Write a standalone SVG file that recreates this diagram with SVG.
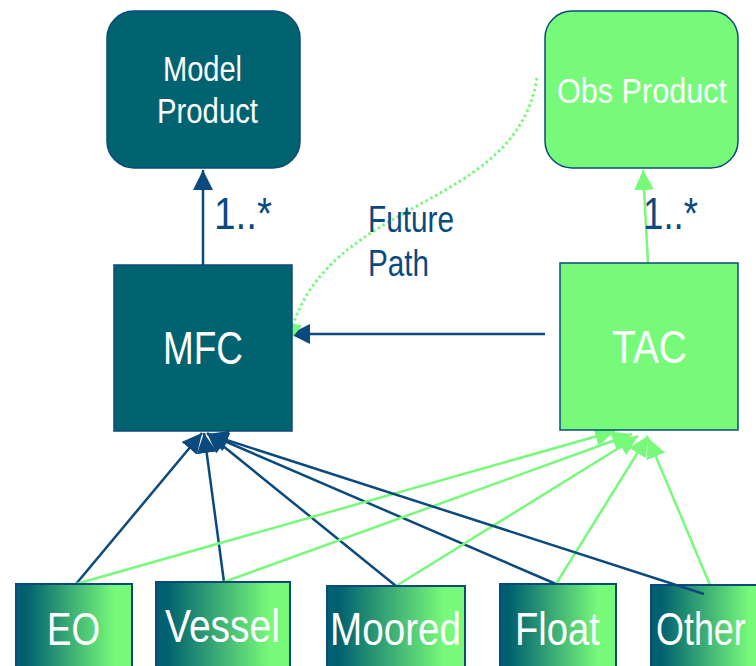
<svg xmlns="http://www.w3.org/2000/svg" width="756" height="666" viewBox="0 0 756 666">
<style>
.teal{fill:#00636F;stroke:#0B4A7E;stroke-width:1.5}
.green{fill:#77FA7A;stroke:#0B4A7E;stroke-width:1.5}
.grad{fill:url(#g);stroke:#0B4A7E;stroke-width:2}
.wt{fill:#FFFFFF;font-family:"Liberation Sans",Arial,sans-serif}
.bt{fill:#0B4A7E;font-family:"Liberation Sans",Arial,sans-serif}
.db{stroke:#0B4A7E;stroke-width:2.5;fill:none}
.gl{stroke:#77FA7A;stroke-width:2.5;fill:none}
</style>
<defs>
<linearGradient id="g" x1="0" y1="0" x2="1" y2="0">
<stop offset="0.08" stop-color="#00606F"/>
<stop offset="0.85" stop-color="#77FA7A"/>
</linearGradient>
<marker id="ab" markerUnits="userSpaceOnUse" markerWidth="22" markerHeight="22" refX="20" refY="10" orient="auto" viewBox="0 0 22 22">
<path d="M0,0 L20,10 L0,20 Z" fill="#0B4A7E"/>
</marker>
<marker id="ag" markerUnits="userSpaceOnUse" markerWidth="22" markerHeight="22" refX="20" refY="10" orient="auto" viewBox="0 0 22 22">
<path d="M0,0 L20,10 L0,20 Z" fill="#77FA7A"/>
</marker>
</defs>
<rect width="756" height="666" fill="#FFFFFF"/>
<g id="connectors">
<line class="db" x1="203" y1="265" x2="203" y2="170" marker-end="url(#ab)"/>
<line class="gl" x1="648" y1="263" x2="643" y2="170" marker-end="url(#ag)"/>
<line class="db" x1="545" y1="334" x2="290" y2="334" marker-end="url(#ab)"/>
<path d="M537,78 C515,215 320,195 288,343" fill="none" stroke="#77FA7A" stroke-width="3" stroke-dasharray="2.5 3" marker-end="url(#ag)"/>
<line class="db" x1="76" y1="584" x2="202" y2="433" marker-end="url(#ab)"/>
<line class="db" x1="224" y1="582" x2="204" y2="433" marker-end="url(#ab)"/>
<line class="db" x1="396" y1="586" x2="207" y2="433" marker-end="url(#ab)"/>
<line class="db" x1="556" y1="584" x2="208" y2="434" marker-end="url(#ab)"/>
<line class="gl" x1="76" y1="584" x2="615" y2="431" marker-end="url(#ag)"/>
<line class="gl" x1="224" y1="582" x2="632" y2="434" marker-end="url(#ag)"/>
<line class="gl" x1="396" y1="586" x2="638" y2="436" marker-end="url(#ag)"/>
<line class="gl" x1="556" y1="584" x2="648" y2="436" marker-end="url(#ag)"/>
<line class="gl" x1="710" y1="585" x2="648" y2="438" marker-end="url(#ag)"/>
</g>
<g id="model-product">
<rect class="teal" x="107" y="11" width="193" height="157" rx="27"/>
<text class="wt" x="163" y="81" font-size="35" textLength="79" lengthAdjust="spacingAndGlyphs">Model</text>
<text class="wt" x="157" y="123" font-size="35" textLength="101" lengthAdjust="spacingAndGlyphs">Product</text>
</g>
<g id="obs-product">
<rect class="green" x="545" y="11" width="193" height="157" rx="27"/>
<text class="wt" x="557" y="103" font-size="35" textLength="170" lengthAdjust="spacingAndGlyphs">Obs Product</text>
</g>
<g id="mfc">
<rect class="teal" x="114" y="265" width="178" height="166"/>
<text class="wt" x="163" y="364" font-size="46" textLength="80" lengthAdjust="spacingAndGlyphs">MFC</text>
</g>
<g id="tac">
<rect class="green" x="560" y="263" width="178" height="167"/>
<text class="wt" x="612" y="363" font-size="46" textLength="75" lengthAdjust="spacingAndGlyphs">TAC</text>
</g>
<g id="labels">
<text class="bt" x="214" y="229" font-size="44" textLength="58" lengthAdjust="spacingAndGlyphs">1..*</text>
<text class="bt" x="643" y="229" font-size="44" textLength="55" lengthAdjust="spacingAndGlyphs">1..*</text>
<text class="bt" x="368" y="232" font-size="37" textLength="86" lengthAdjust="spacingAndGlyphs">Future</text>
<text class="bt" x="368" y="276" font-size="37" textLength="61" lengthAdjust="spacingAndGlyphs">Path</text>
</g>
<g id="eo">
<rect class="grad" x="16" y="584" width="116" height="90"/>
<text class="wt" x="47" y="645" font-size="47" textLength="53" lengthAdjust="spacingAndGlyphs">EO</text>
</g>
<g id="vessel">
<rect class="grad" x="156" y="582" width="134" height="92"/>
<text class="wt" x="165" y="642" font-size="47" textLength="115" lengthAdjust="spacingAndGlyphs">Vessel</text>
</g>
<g id="moored">
<rect class="grad" x="327" y="586" width="138" height="88"/>
<text class="wt" x="330" y="645" font-size="47" textLength="131" lengthAdjust="spacingAndGlyphs">Moored</text>
</g>
<g id="float">
<rect class="grad" x="500" y="584" width="116" height="90"/>
<text class="wt" x="515" y="645" font-size="47" textLength="85" lengthAdjust="spacingAndGlyphs">Float</text>
</g>
<g id="other">
<rect class="grad" x="651" y="585" width="116" height="90"/>
<text class="wt" transform="translate(656,645) scale(0.78,1)" x="0" y="0" font-size="46">Other</text>
</g>
<line class="db" x1="704" y1="594" x2="208" y2="434" marker-end="url(#ab)"/>
</svg>
